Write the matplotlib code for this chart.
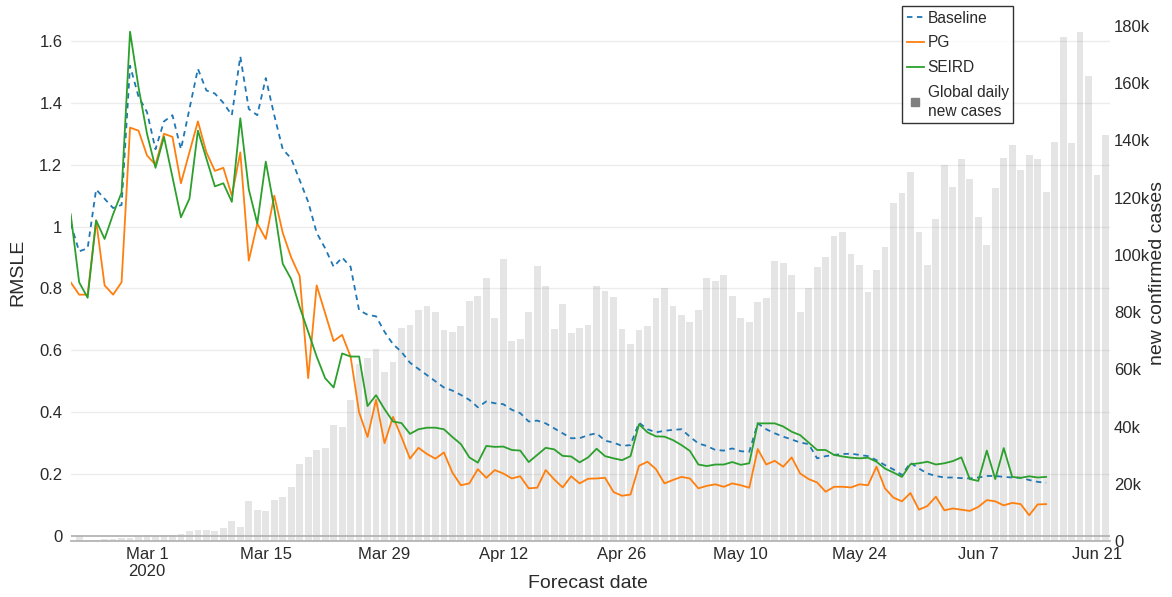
import numpy as np
import pandas as pd
import matplotlib
matplotlib.use("Agg")
import matplotlib.pyplot as plt
from matplotlib.lines import Line2D
from matplotlib.ticker import FuncFormatter
from matplotlib.transforms import blended_transform_factory

plt.rcParams['font.family'] = ['Liberation Sans', 'DejaVu Sans']

# RMSLE per forecast date, starting 2020-02-21
baseline = [1.01, 0.92, 0.93, 1.12, 1.09, 1.06, 1.07, 1.52, 1.42, 1.37,
            1.25, 1.34, 1.36, 1.25, 1.38, 1.51, 1.44, 1.43, 1.40, 1.36,
            1.55, 1.38, 1.36, 1.48, 1.36, 1.25, 1.22, 1.15, 1.08, 0.98,
            0.93, 0.87, 0.90, 0.87, 0.73, 0.715, 0.71, 0.66, 0.62, 0.595,
            0.56, 0.54, 0.52, 0.50, 0.48, 0.47, 0.456, 0.44, 0.416, 0.435,
            0.429, 0.426, 0.408, 0.397, 0.370, 0.373, 0.364, 0.348, 0.332, 0.316,
            0.316, 0.326, 0.332, 0.308, 0.302, 0.291, 0.294, 0.366, 0.345, 0.335,
            0.340, 0.343, 0.345, 0.321, 0.299, 0.291, 0.278, 0.276, 0.283, 0.274,
            0.272, 0.364, 0.345, 0.332, 0.321, 0.312, 0.302, 0.297, 0.251, 0.258,
            0.262, 0.265, 0.266, 0.262, 0.258, 0.245, 0.229, 0.215, 0.197, 0.237,
            0.218, 0.202, 0.194, 0.189, 0.189, 0.187, 0.186, 0.189, 0.194, 0.194,
            0.191, 0.189, 0.188, 0.181, 0.175, 0.172]
pg = [0.82, 0.78, 0.78, 1.02, 0.81, 0.78, 0.82, 1.32, 1.31, 1.23,
      1.20, 1.30, 1.29, 1.14, 1.24, 1.34, 1.24, 1.18, 1.19, 1.10,
      1.24, 0.89, 1.01, 0.96, 1.10, 0.98, 0.90, 0.84, 0.51, 0.81,
      0.72, 0.63, 0.65, 0.58, 0.40, 0.32, 0.44, 0.30, 0.385, 0.32,
      0.25, 0.285, 0.265, 0.25, 0.27, 0.205, 0.164, 0.170, 0.216, 0.188,
      0.213, 0.202, 0.186, 0.193, 0.154, 0.156, 0.213, 0.183, 0.157, 0.193,
      0.170, 0.185, 0.186, 0.188, 0.142, 0.130, 0.134, 0.227, 0.240, 0.216,
      0.170, 0.181, 0.191, 0.186, 0.154, 0.162, 0.167, 0.159, 0.170, 0.164,
      0.156, 0.281, 0.231, 0.243, 0.224, 0.254, 0.202, 0.184, 0.173, 0.143,
      0.159, 0.159, 0.157, 0.167, 0.164, 0.224, 0.154, 0.124, 0.112, 0.139,
      0.085, 0.097, 0.127, 0.083, 0.089, 0.085, 0.081, 0.094, 0.116, 0.112,
      0.099, 0.107, 0.103, 0.067, 0.102, 0.103]
seird = [1.04, 0.82, 0.77, 1.02, 0.96, 1.04, 1.11, 1.63, 1.45, 1.30,
         1.19, 1.29, 1.16, 1.03, 1.09, 1.31, 1.22, 1.13, 1.14, 1.08,
         1.35, 1.12, 1.01, 1.21, 1.06, 0.88, 0.83, 0.74, 0.66, 0.58,
         0.51, 0.48, 0.59, 0.58, 0.58, 0.42, 0.455, 0.41, 0.37, 0.365,
         0.33, 0.345, 0.35, 0.35, 0.345, 0.32, 0.297, 0.254, 0.237, 0.291,
         0.288, 0.289, 0.278, 0.276, 0.239, 0.262, 0.285, 0.280, 0.259, 0.257,
         0.238, 0.254, 0.282, 0.258, 0.251, 0.245, 0.258, 0.361, 0.335, 0.322,
         0.321, 0.310, 0.294, 0.275, 0.231, 0.226, 0.231, 0.231, 0.239, 0.230,
         0.235, 0.364, 0.364, 0.364, 0.354, 0.337, 0.326, 0.302, 0.278, 0.278,
         0.262, 0.257, 0.253, 0.251, 0.253, 0.240, 0.218, 0.205, 0.191, 0.232,
         0.235, 0.240, 0.231, 0.235, 0.242, 0.254, 0.184, 0.178, 0.276, 0.184,
         0.284, 0.191, 0.188, 0.193, 0.189, 0.191]

# global daily new cases (thousands), starting 2020-02-22
new_cases_k = [1.7, 0.5, 0.4, 0.6, 0.8, 1.0, 1.0, 1.7, 2.0, 1.9,
               2.2, 2.1, 2.4, 3.6, 3.7, 3.7, 3.5, 4.5, 7.0, 5.0,
               14.1, 10.8, 10.5, 14.3, 15.3, 19.0, 26.8, 29.4, 31.8, 32.5,
               40.7, 40.0, 49.3, 61.9, 63.9, 67.2, 59.0, 62.7, 74.5, 75.4,
               80.7, 82.3, 80.1, 73.7, 73.0, 75.0, 84.0, 85.8, 92.1, 78.1,
               98.6, 70.0, 70.5, 80.2, 96.0, 89.0, 74.0, 82.8, 72.6, 74.6,
               75.6, 89.0, 87.5, 85.2, 74.0, 68.8, 73.8, 75.3, 84.9, 88.4,
               82.0, 79.0, 76.7, 80.8, 92.1, 91.0, 93.0, 85.5, 77.9, 76.5,
               83.4, 85.0, 97.8, 97.3, 93.1, 80.0, 88.4, 95.9, 99.4, 106.6,
               108.1, 100.4, 96.3, 86.9, 94.8, 102.9, 118.1, 121.6, 129.0, 107.9,
               96.3, 112.6, 131.4, 123.9, 133.4, 126.6, 113.1, 103.6, 123.4, 133.8,
               138.4, 129.6, 134.8, 133.6, 122.1, 139.6, 176.3, 139.0, 177.9, 162.5,
               127.8, 141.9]

line_dates = pd.date_range("2020-02-21", periods=len(baseline), freq="D")
bar_dates = pd.date_range("2020-02-22", periods=len(new_cases_k), freq="D")
cases = np.array(new_cases_k) * 1000

x_ticks = pd.to_datetime(["2020-03-01", "2020-03-15", "2020-03-29", "2020-04-12",
                          "2020-04-26", "2020-05-10", "2020-05-24", "2020-06-07",
                          "2020-06-21"])
x_labels = ["Mar 1\n2020", "Mar 15", "Mar 29", "Apr 12", "Apr 26", "May 10",
            "May 24", "Jun 7", "Jun 21"]
rmsle_ticks = [0, 0.2, 0.4, 0.6, 0.8, 1.0, 1.2, 1.4, 1.6]
case_ticks = [0, 20000, 40000, 60000, 80000, 100000, 120000, 140000, 160000, 180000]

txt = '#2a2a2a'
fig = plt.figure(figsize=(11.72, 5.97), dpi=100)
ax = fig.add_axes([0.0603, 0.0938, 0.8866, 0.8928])
ax.bar(bar_dates, cases, width=0.8, color='gray', alpha=0.2, zorder=2)

ax2 = ax.twinx()
l_base, = ax2.plot(line_dates, baseline, color='#1f77b4', lw=1.3,
                   linestyle=(0, (3, 2.5)), label='Baseline')
l_pg, = ax2.plot(line_dates, pg, color='#ff7f0e', lw=1.3, label='PG')
l_se, = ax2.plot(line_dates, seird, color='#2ca02c', lw=1.3, label='SEIRD')

ax.set_xlim(pd.Timestamp("2020-02-21"), pd.Timestamp("2020-06-22 12:00"))
ax.set_ylim(0, 186300)
ax2.set_ylim(-0.0162, 1.7065)

# horizontal grid of the RMSLE axis, kept behind the bars
trans = blended_transform_factory(ax.transAxes, ax2.transData)
for v in rmsle_ticks[1:]:
    ax.add_line(Line2D([0, 1], [v, v], transform=trans, color='#ececec',
                       lw=1, zorder=0))
ax2.axhline(0, color='#b4b4b4', lw=1.3, zorder=1)
ax.axhline(0, color='#b4b4b4', lw=1.3, zorder=3, clip_on=False)

ax.yaxis.tick_right()
ax2.yaxis.tick_left()
ax.set_yticks(case_ticks)
ax.yaxis.set_major_formatter(FuncFormatter(lambda v, p: "0" if v == 0 else f"{int(v/1000)}k"))
ax2.set_yticks(rmsle_ticks)
ax2.yaxis.set_major_formatter(FuncFormatter(lambda v, p: f"{v:g}"))
ax.set_xticks(x_ticks)
ax.set_xticklabels(x_labels)

for a in (ax, ax2):
    for s in a.spines.values():
        s.set_visible(False)
    a.tick_params(length=0, labelsize=12, colors=txt)
ax.tick_params(axis='y', pad=3)
ax2.tick_params(axis='y', pad=6)
ax.tick_params(axis='x', pad=4)

fig.text(18/1172, 1 - 272/597, "RMSLE", rotation=90, ha='center', va='center',
         fontsize=14, color=txt)
fig.text(1158/1172, 1 - 273/597, "new confirmed cases", rotation=90, ha='center',
         va='center', fontsize=14, color=txt)
fig.text(588/1172, 1 - 583/597, "Forecast date", ha='center', va='center',
         fontsize=14, color=txt)

sq = Line2D([], [], marker='s', color='gray', linestyle='none', markersize=6)
leg = fig.legend([l_base, l_pg, l_se, sq],
                 ['Baseline', 'PG', 'SEIRD', 'Global daily\nnew cases'],
                 loc='upper left', bbox_to_anchor=(902/1172, 1 - 6/597),
                 bbox_transform=fig.transFigure, fontsize=11.2, frameon=True,
                 fancybox=False, borderpad=0.3, labelspacing=0.62,
                 handlelength=1.1, handletextpad=0.25, borderaxespad=0)
leg.get_frame().set_edgecolor('black')
leg.get_frame().set_linewidth(1.0)
for t in leg.get_texts():
    t.set_color(txt)
    t.set_linespacing(1.35)

fig.savefig("out.png", dpi=100)
